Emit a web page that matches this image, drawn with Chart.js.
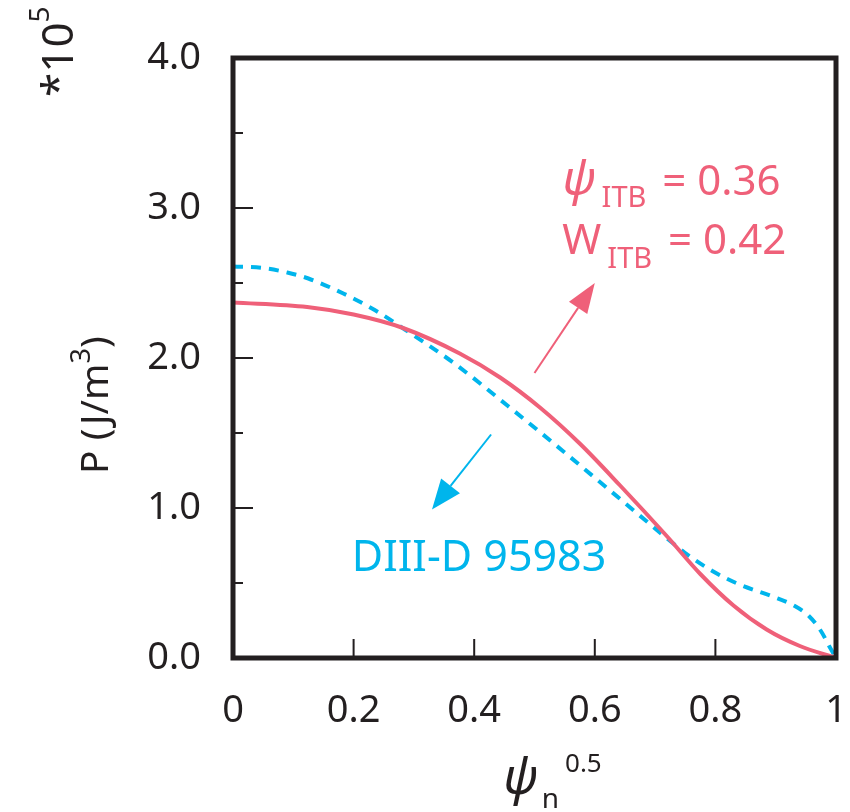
<!DOCTYPE html>
<html>
<head>
<meta charset="utf-8">
<script src="https://cdn.jsdelivr.net/npm/chart.js@4.4.1/dist/chart.umd.min.js"></script>
<style>
  html, body { margin: 0; padding: 0; background: #fff; }
</style>
</head>
<body>
<canvas id="chart" width="850" height="812"></canvas>
<script>
// ── Data ──────────────────────────────────────────────────────────────────────
const X_TICKS = [0, 0.2, 0.4, 0.6, 0.8, 1];
const Y_MAJOR = [0, 1, 2, 3, 4];
const Y_MINOR = [0.5, 1.5, 2.5, 3.5];

// model profile, psi_ITB = 0.36, W_ITB = 0.42 (solid red)
const ITB_X = [0, 0.123, 0.2, 0.282, 0.376, 0.443, 0.509, 0.575, 0.642, 0.72, 0.775, 0.83, 0.885, 0.94, 1.0];
const ITB_P = [2.37, 2.34, 2.29, 2.2, 2.03, 1.87, 1.67, 1.43, 1.15, 0.81, 0.56, 0.35, 0.19, 0.08, 0];

// DIII-D 95983 measured profile (dashed blue)
const DIIID_X = [0, 0.05, 0.09, 0.125, 0.183, 0.235, 0.285, 0.365, 0.456, 0.547, 0.642, 0.713, 0.75, 0.795, 0.84, 0.895, 0.93, 0.955, 0.975, 0.99, 1.0];
const DIIID_P = [2.61, 2.6, 2.57, 2.53, 2.43, 2.32, 2.19, 1.97, 1.68, 1.38, 1.06, 0.82, 0.7, 0.58, 0.49, 0.41, 0.35, 0.28, 0.18, 0.07, 0];

// annotation arrows, in data units: [x0, y0, x1, y1]
const ITB_ARROW = [0.5, 1.9, 0.6, 2.5];
const DIIID_ARROW = [0.428, 1.49, 0.33, 0.99];

// label anchors, in data units
const ITB_LABEL_AT = [0.546, 3.09];
const DIIID_LABEL_AT = [0.197, 0.58];

const RED = '#ef6079';
const BLUE = '#00b5ec';
const INK = '#231f20';
const FONT = '"Noto Sans", "DejaVu Sans", sans-serif';

const toPts = (xs, ys) => xs.map((x, i) => ({ x, y: ys[i] }));

// ── Rich text helper (sub/superscripts) ──────────────────────────────────────
function richText(ctx, parts, x, y, color) {
  ctx.fillStyle = color;
  ctx.textBaseline = 'alphabetic';
  ctx.textAlign = 'left';
  let cx = x;
  for (const p of parts) {
    ctx.font = `${p.italic ? 'italic ' : ''}${p.size}px ${FONT}`;
    ctx.fillText(p.t, cx, y + (p.dy || 0));
    cx += ctx.measureText(p.t).width + (p.gap || 0);
  }
}

function arrow(ctx, x0, y0, x1, y1, color, head, half) {
  const a = Math.atan2(y1 - y0, x1 - x0);
  const bx = x1 - head * Math.cos(a), by = y1 - head * Math.sin(a);
  ctx.strokeStyle = color;
  ctx.fillStyle = color;
  ctx.lineWidth = 2;
  ctx.beginPath();
  ctx.moveTo(x0, y0);
  ctx.lineTo(bx, by);
  ctx.stroke();
  ctx.beginPath();
  ctx.moveTo(x1, y1);
  ctx.lineTo(bx + half * Math.sin(a), by - half * Math.cos(a));
  ctx.lineTo(bx - half * Math.sin(a), by + half * Math.cos(a));
  ctx.closePath();
  ctx.fill();
}

// ── Decorations: frame, inner ticks, titles, annotations ────────────────────
const decor = {
  id: 'decor',
  afterDraw(chart) {
    const { ctx, chartArea: ca, scales: { x, y } } = chart;
    ctx.save();

    // inner ticks
    ctx.strokeStyle = INK;
    ctx.lineWidth = 2;
    ctx.beginPath();
    Y_MAJOR.forEach(v => { const py = y.getPixelForValue(v); ctx.moveTo(ca.left, py); ctx.lineTo(ca.left + 20, py); });
    Y_MINOR.forEach(v => { const py = y.getPixelForValue(v); ctx.moveTo(ca.left, py); ctx.lineTo(ca.left + 10, py); });
    X_TICKS.forEach(v => { const px = x.getPixelForValue(v); ctx.moveTo(px, ca.bottom); ctx.lineTo(px, ca.bottom - 19); });
    ctx.stroke();

    // frame
    ctx.lineWidth = 5;
    ctx.strokeRect(ca.left, ca.top, ca.right - ca.left, ca.bottom - ca.top);

    // arrows
    const px = v => x.getPixelForValue(v), py = v => y.getPixelForValue(v);
    arrow(ctx, px(ITB_ARROW[0]), py(ITB_ARROW[1]), px(ITB_ARROW[2]), py(ITB_ARROW[3]), RED, 30, 11);
    arrow(ctx, px(DIIID_ARROW[0]), py(DIIID_ARROW[1]), px(DIIID_ARROW[2]), py(DIIID_ARROW[3]), BLUE, 30, 12);

    // red label
    const lx = px(ITB_LABEL_AT[0]), ly = py(ITB_LABEL_AT[1]);
    richText(ctx, [
      { t: 'ψ', size: 48, italic: true, gap: 6 },
      { t: 'ITB', size: 29, dy: 12, gap: 16 },
      { t: '= 0.36', size: 42 },
    ], lx, ly, RED);
    richText(ctx, [
      { t: 'W', size: 42, gap: 6 },
      { t: 'ITB', size: 29, dy: 14, gap: 16 },
      { t: '= 0.42', size: 42 },
    ], lx, ly + 59, RED);

    // blue label
    richText(ctx, [{ t: 'DIII-D 95983', size: 43 }], px(DIIID_LABEL_AT[0]), py(DIIID_LABEL_AT[1]), BLUE);

    // x axis title
    richText(ctx, [
      { t: 'ψ', size: 50, italic: true, gap: 4 },
      { t: 'n', size: 28, dy: 14, gap: 6 },
      { t: '0.5', size: 26, dy: -22 },
    ], 503, 794, INK);

    // y axis title (rotated)
    ctx.translate(108, 474);
    ctx.rotate(-Math.PI / 2);
    richText(ctx, [
      { t: 'P (J/m', size: 39 },
      { t: '3', size: 27, dy: -18 },
      { t: ')', size: 39 },
    ], 0, 0, INK);
    ctx.setTransform(1, 0, 0, 1, 0, 0);

    // exponent marker
    ctx.translate(73, 97);
    ctx.rotate(-Math.PI / 2);
    richText(ctx, [
      { t: '*10', size: 44 },
      { t: '5', size: 28, dy: -24 },
    ], 0, 0, INK);

    ctx.restore();
  },
};

// ── Chart ─────────────────────────────────────────────────────────────────────
new Chart(document.getElementById('chart').getContext('2d'), {
  type: 'line',
  data: {
    datasets: [{
      label: 'psi_ITB = 0.36, W_ITB = 0.42',
      data: toPts(ITB_X, ITB_P),
      borderColor: RED,
      borderWidth: 4,
      pointRadius: 0,
      cubicInterpolationMode: 'monotone',
    }, {
      label: 'DIII-D 95983',
      data: toPts(DIIID_X, DIIID_P),
      borderColor: BLUE,
      borderWidth: 4,
      borderDash: [10, 8],
      pointRadius: 0,
      cubicInterpolationMode: 'monotone',
    }],
  },
  options: {
    responsive: false,
    animation: false,
    layout: { padding: { top: 58, right: 14, left: 0, bottom: 0 } },
    plugins: { legend: { display: false }, tooltip: { enabled: false } },
    scales: {
      x: {
        type: 'linear', min: 0, max: 1,
        grid: { display: false, drawTicks: false },
        border: { display: false },
        afterBuildTicks: s => { s.ticks = X_TICKS.map(v => ({ value: v })); },
        afterFit: s => { s.height = 154; s.paddingLeft = 0; s.paddingRight = 0; },
        ticks: {
          padding: 30, color: INK, maxRotation: 0, autoSkip: false,
          font: { family: FONT, size: 38 },
          callback: v => (v === 0 || v === 1) ? String(v) : v.toFixed(1),
        },
      },
      y: {
        min: 0, max: 4,
        grid: { display: false, drawTicks: false },
        border: { display: false },
        afterBuildTicks: s => { s.ticks = Y_MAJOR.map(v => ({ value: v })); },
        afterFit: s => { s.width = 233; s.paddingTop = 0; s.paddingBottom = 0; },
        ticks: {
          padding: 32, color: INK,
          font: { family: FONT, size: 38 },
          callback: v => v.toFixed(1),
        },
      },
    },
  },
  plugins: [decor],
});
</script>
</body>
</html>
